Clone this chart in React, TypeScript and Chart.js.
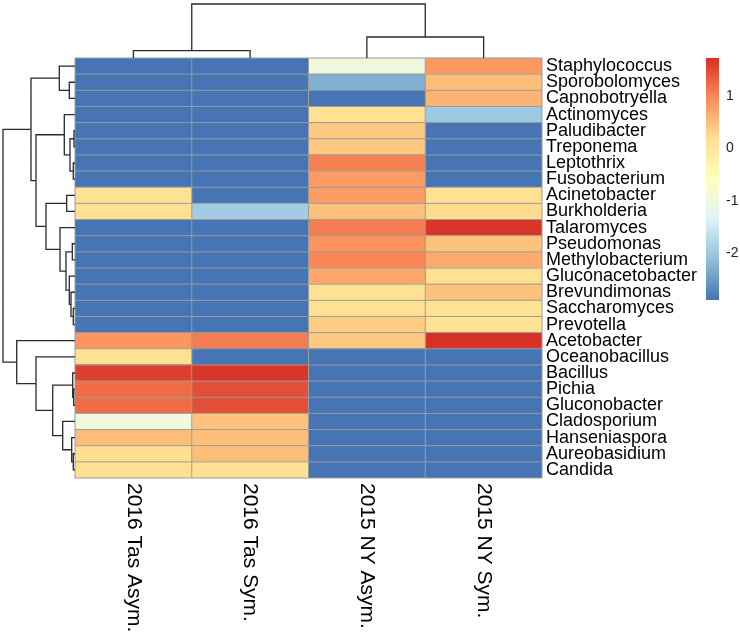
import React, { useEffect, useRef } from "react";
import { Chart, registerables } from "chart.js";

Chart.register(...registerables);

const FONT = '"Liberation Sans", Arial, Helvetica, sans-serif';

// Column (sample) labels
const columns = ["2016 Tas Asym.", "2016 Tas Sym.", "2015 NY Asym.", "2015 NY Sym."];

// Row (genus) labels, in dendrogram order (top to bottom)
const rows = [
  "Staphylococcus", "Sporobolomyces", "Capnobotryella", "Actinomyces", "Paludibacter",
  "Treponema", "Leptothrix", "Fusobacterium", "Acinetobacter", "Burkholderia",
  "Talaromyces", "Pseudomonas", "Methylobacterium", "Gluconacetobacter", "Brevundimonas",
  "Saccharomyces", "Prevotella", "Acetobacter", "Oceanobacillus", "Bacillus",
  "Pichia", "Gluconobacter", "Cladosporium", "Hanseniaspora", "Aureobasidium", "Candida",
];

// Cell values per column (same order as rows)
const tasAsym = [-2.9, -2.9, -2.9, -2.9, -2.9, -2.9, -2.9, -2.9, 0.15, 0.15, -2.9, -2.9, -2.9, -2.9, -2.9, -2.9, -2.9, 0.88, 0.15, 1.6, 1.23, 1.23, -1.0, 0.5, 0.18, 0.15];
const tasSym = [-2.9, -2.9, -2.9, -2.9, -2.9, -2.9, -2.9, -2.9, -2.9, -1.95, -2.9, -2.9, -2.9, -2.9, -2.9, -2.9, -2.9, 1.1, -2.9, 1.68, 1.48, 1.48, 0.46, 0.5, 0.5, 0.15];
const nyAsym = [-1.0, -2.28, -2.9, 0.15, 0.41, 0.41, 1.07, 0.83, 0.83, 0.48, 1.1, 0.9, 1.0, 0.72, 0.15, 0.17, 0.37, 0.41, -2.9, -2.9, -2.9, -2.9, -2.9, -2.9, -2.9, -2.9];
const nySym = [0.86, 0.5, 0.6, -2.0, -2.9, -2.9, -2.9, -2.9, 0.15, 0.22, 1.68, 0.47, 0.68, 0.17, 0.47, 0.12, 0.12, 1.73, -2.9, -2.9, -2.9, -2.9, -2.9, -2.9, -2.9, -2.9];
const columnValues = [tasAsym, tasSym, nyAsym, nySym];

// Colour palette (reversed RdYlBu)
const colorStops = ["#4575B4", "#91BFDB", "#E0F3F8", "#FFFFBF", "#FEE090", "#FC8D59", "#D73027"];

// Colour-bar tick labels
const legendTicks = [-2, -1, 0, 1];

// Row clustering (hclust-style merge: negative = leaf, positive = earlier step; third = height)
const rowMerge: [number, number, number][] = [
  [-2, -3, 5.7],
  [-1, 1, 15.7],
  [-5, -6, 1.0],
  [-7, -8, 1.7],
  [3, 4, 5.0],
  [-4, 5, 10.7],
  [-9, -10, 8.3],
  [-12, -13, 2.7],
  [-16, -17, 1.7],
  [-15, 9, 4.0],
  [-14, 10, 5.7],
  [8, 11, 9.0],
  [-11, 12, 15.0],
  [7, 13, 29.0],
  [6, 14, 39.0],
  [2, 15, 44.0],
  [-21, -22, 1.3],
  [-20, 17, 2.3],
  [-25, -26, 1.7],
  [-24, 19, 3.3],
  [-23, 20, 12.3],
  [18, 21, 22.3],
  [-19, 22, 39.0],
  [-18, 23, 58.3],
  [16, 24, 72.0],
];

// Column clustering
const colMerge: [number, number, number][] = [
  [-1, -2, 7.3],
  [-3, -4, 21.0],
  [1, 2, 54.0],
];

const allValues = columnValues.flat();
const vMin = Math.min(...allValues);
const vMax = Math.max(...allValues);

function hexToRgb(h: string): number[] {
  const n = parseInt(h.slice(1), 16);
  return [(n >> 16) & 255, (n >> 8) & 255, n & 255];
}
const stopRgb = colorStops.map(hexToRgb);

function valueColor(v: number): string {
  let t = (v - vMin) / (vMax - vMin);
  t = Math.max(0, Math.min(1, t));
  const seg = t * (stopRgb.length - 1);
  const i = Math.min(stopRgb.length - 2, Math.floor(seg));
  const f = seg - i;
  const a = stopRgb[i], b = stopRgb[i + 1];
  const c = a.map((x, k) => Math.round(x + (b[k] - x) * f));
  return `rgb(${c[0]},${c[1]},${c[2]})`;
}

function drawDendro(
  ctx: CanvasRenderingContext2D,
  merge: [number, number, number][],
  leafPos: (i: number) => number,
  hToPix: (h: number) => number,
  alongX: boolean
) {
  const pos: number[] = [];
  const hts: number[] = [];
  const get = (ref: number): [number, number] =>
    ref < 0 ? [leafPos(-ref - 1), 0] : [pos[ref - 1], hts[ref - 1]];
  const pt = (p: number, h: number): [number, number] => (alongX ? [p, hToPix(h)] : [hToPix(h), p]);
  ctx.beginPath();
  merge.forEach(([a, b, h], k) => {
    const [pa, ha] = get(a);
    const [pb, hb] = get(b);
    let q = pt(pa, ha);
    ctx.moveTo(q[0], q[1]);
    q = pt(pa, h);
    ctx.lineTo(q[0], q[1]);
    q = pt(pb, h);
    ctx.lineTo(q[0], q[1]);
    q = pt(pb, hb);
    ctx.lineTo(q[0], q[1]);
    pos[k] = (pa + pb) / 2;
    hts[k] = h;
  });
  ctx.stroke();
}

const decorPlugin = {
  id: "heatDecor",
  afterDatasetsDraw(chart: any) {
    const { ctx, chartArea: a, scales } = chart;
    const xs = scales.x;
    const ys = scales.y;
    ctx.save();

    // cell borders
    ctx.strokeStyle = "#9c9c9c";
    ctx.lineWidth = 1;
    ctx.beginPath();
    for (let i = 0; i <= rows.length; i++) {
      const y = ys.getPixelForValue(i - 0.5);
      ctx.moveTo(a.left, y);
      ctx.lineTo(a.right, y);
    }
    for (let c = 0; c <= columns.length; c++) {
      const x = xs.getPixelForValue(c);
      ctx.moveTo(x, a.top);
      ctx.lineTo(x, a.bottom);
    }
    ctx.stroke();

    // column labels (rotated, reading downward)
    ctx.fillStyle = "#000";
    ctx.font = `21px ${FONT}`;
    ctx.textAlign = "left";
    ctx.textBaseline = "middle";
    columns.forEach((lab, c) => {
      ctx.save();
      ctx.translate(xs.getPixelForValue(c + 0.5), a.bottom + 5);
      ctx.rotate(Math.PI / 2);
      ctx.fillText(lab, 0, 0);
      ctx.restore();
    });

    // dendrograms
    ctx.strokeStyle = "#2a2a2a";
    ctx.lineWidth = 1.3;
    const rowMax = Math.max(...rowMerge.map((m) => m[2]));
    const rowSpan = a.left - 3;
    drawDendro(ctx, rowMerge, (i) => ys.getPixelForValue(i), (h) => a.left - (h / rowMax) * rowSpan, false);
    const colMax = Math.max(...colMerge.map((m) => m[2]));
    const colSpan = a.top - 4;
    drawDendro(ctx, colMerge, (i) => xs.getPixelForValue(i + 0.5), (h) => a.top - (h / colMax) * colSpan, true);

    // colour bar
    const cbX = chart.width - 34;
    const cbW = 13;
    const cbTop = a.top;
    const cbBot = a.top + 242;
    const grad = ctx.createLinearGradient(0, cbBot, 0, cbTop);
    colorStops.forEach((c, i) => grad.addColorStop(i / (colorStops.length - 1), c));
    ctx.fillStyle = grad;
    ctx.fillRect(cbX, cbTop, cbW, cbBot - cbTop);
    ctx.fillStyle = "#222";
    ctx.font = `14px ${FONT}`;
    ctx.textAlign = "left";
    ctx.textBaseline = "middle";
    legendTicks.forEach((t) => {
      const y = cbBot - ((t - vMin) / (vMax - vMin)) * (cbBot - cbTop);
      ctx.fillText(String(t), cbX + cbW + 7, y);
    });

    ctx.restore();
  },
};

export default function App() {
  const ref = useRef<HTMLCanvasElement | null>(null);
  useEffect(() => {
    if (!ref.current) return;
    const chart = new Chart(ref.current, {
      type: "bar",
      data: {
        labels: rows,
        datasets: columns.map((col, c) => ({
          label: col,
          data: rows.map(() => [c, c + 1]),
          backgroundColor: columnValues[c].map(valueColor),
          borderWidth: 0,
          barPercentage: 1,
          categoryPercentage: 1,
          grouped: false,
        })),
      } as any,
      options: {
        indexAxis: "y",
        responsive: false,
        animation: false,
        devicePixelRatio: 1,
        layout: { padding: { left: 75, top: 58, right: 0, bottom: 157 } },
        plugins: { legend: { display: false }, tooltip: { enabled: false } },
        scales: {
          x: { type: "linear", min: 0, max: 4, display: false },
          y: {
            type: "category",
            position: "right",
            grid: { display: false, drawTicks: false },
            border: { display: false },
            ticks: {
              autoSkip: false,
              padding: 4,
              color: "#000",
              font: { size: 18, family: FONT },
            },
            afterFit: (s: any) => {
              s.width = 198;
            },
          },
        },
      } as any,
      plugins: [decorPlugin],
    });
    return () => chart.destroy();
  }, []);
  return (
    <div style={{ position: "absolute", left: 0, top: 0, width: 740, height: 635, background: "#fff" }}>
      <canvas ref={ref} width={740} height={635} />
    </div>
  );
}
